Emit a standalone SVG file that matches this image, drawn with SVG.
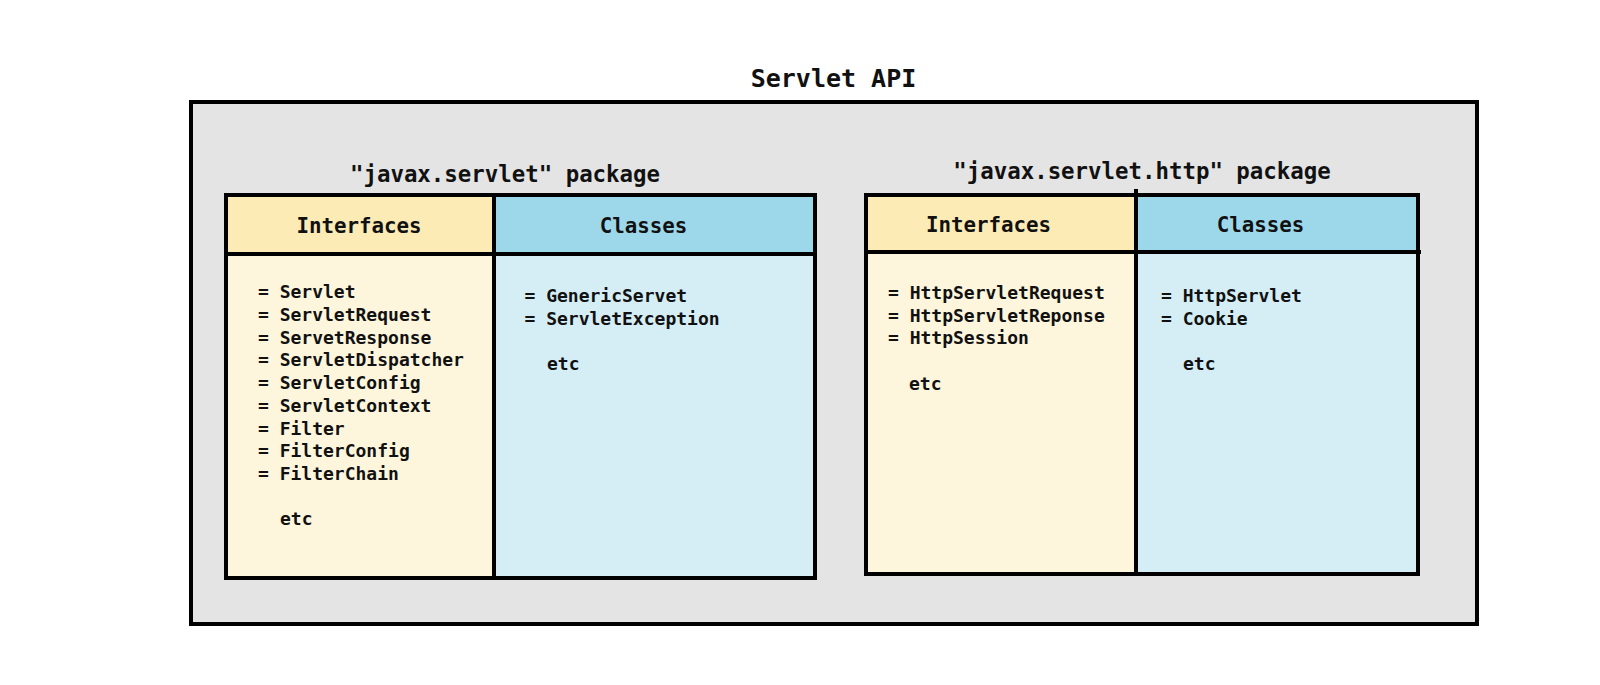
<svg xmlns="http://www.w3.org/2000/svg" width="1600" height="685" viewBox="0 0 1600 685">
<style>
text{font-family:"DejaVu Sans Mono","Liberation Mono",monospace;font-weight:bold;fill:#111}
.title{font-size:25px}
.pkg{font-size:22.4px}
.hdr{font-size:20.8px}
.item{font-size:18px}
.line{stroke:#000;stroke-width:4;fill:none}
.outer{stroke:#000;stroke-width:4;fill:#e4e4e4}
.ih{fill:#fdebb6}
.ch{fill:#9dd8ea}
.ib{fill:#fef6dc}
.cb{fill:#d5eef6}
</style>
<rect width="1600" height="685" fill="#ffffff"/>
<g id="servlet-api">
<rect class="outer" x="191" y="102" width="1286" height="522"/>
<text class="title" x="833.5" y="87" text-anchor="middle">Servlet API</text>
</g>
<g id="javax-servlet">
<text class="pkg" x="505" y="181.5" text-anchor="middle">"javax.servlet" package</text>
<rect class="ih" x="226" y="195" width="268" height="59"/>
<rect class="ch" x="494" y="195" width="321" height="59"/>
<rect class="ib" x="226" y="254" width="268" height="324"/>
<rect class="cb" x="494" y="254" width="321" height="324"/>
<rect class="line" x="226" y="195" width="589" height="383"/>
<line class="line" x1="494" y1="195" x2="494" y2="578"/>
<line class="line" x1="226" y1="254" x2="815" y2="254"/>
<text class="hdr" x="359" y="232.5" text-anchor="middle">Interfaces</text>
<text class="hdr" x="643.5" y="232.5" text-anchor="middle">Classes</text>
<text class="item" x="258" y="298">= Servlet</text>
<text class="item" x="258" y="320.75">= ServletRequest</text>
<text class="item" x="258" y="343.5">= ServetResponse</text>
<text class="item" x="258" y="366.25">= ServletDispatcher</text>
<text class="item" x="258" y="389">= ServletConfig</text>
<text class="item" x="258" y="411.75">= ServletContext</text>
<text class="item" x="258" y="434.5">= Filter</text>
<text class="item" x="258" y="457.25">= FilterConfig</text>
<text class="item" x="258" y="480">= FilterChain</text>
<text class="item" x="280" y="525">etc</text>
<text class="item" x="524.5" y="302">= GenericServet</text>
<text class="item" x="524.5" y="324.5">= ServletException</text>
<text class="item" x="547" y="370">etc</text>
</g>
<g id="javax-servlet-http">
<text class="pkg" x="1142" y="178.5" text-anchor="middle">"javax.servlet.http" package</text>
<rect class="ih" x="866" y="195" width="270" height="57"/>
<rect class="ch" x="1136" y="195" width="282" height="57"/>
<rect class="ib" x="866" y="252" width="270" height="322"/>
<rect class="cb" x="1136" y="252" width="282" height="322"/>
<rect class="line" x="866" y="195" width="552" height="379"/>
<line class="line" x1="1136" y1="189" x2="1136" y2="574"/>
<line class="line" x1="866" y1="252" x2="1421" y2="252"/>
<text class="hdr" x="988.5" y="231.5" text-anchor="middle">Interfaces</text>
<text class="hdr" x="1260.5" y="231.5" text-anchor="middle">Classes</text>
<text class="item" x="888" y="299">= HttpServletRequest</text>
<text class="item" x="888" y="321.5">= HttpServletReponse</text>
<text class="item" x="888" y="344">= HttpSession</text>
<text class="item" x="909" y="390">etc</text>
<text class="item" x="1161" y="302">= HttpServlet</text>
<text class="item" x="1161" y="324.5">= Cookie</text>
<text class="item" x="1183" y="370">etc</text>
</g>
<g id="connectors"/>
</svg>
